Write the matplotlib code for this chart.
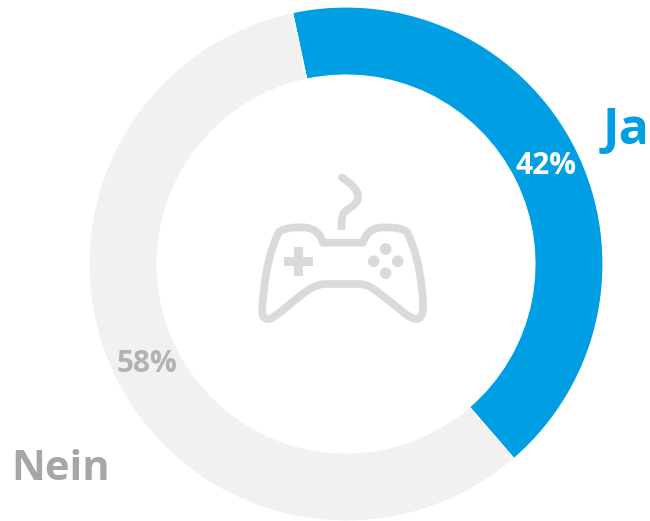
#!/usr/bin/env python3
"""Donut chart: Ja / Nein share with a gamepad icon in the middle."""

import matplotlib
matplotlib.use("Agg")
import matplotlib.pyplot as plt
from matplotlib.patches import Circle, PathPatch, Rectangle
from matplotlib.path import Path

labels = ["Ja", "Nein"]
values = [42, 58]
colors = ["#009FE3", "#F1F1F1"]
label_colors = ["#009FE3", "#A6A6A6"]
pct_colors = ["white", "#B2B2B2"]

W, H = 650, 521
CX, CY, R_OUT, R_IN = 346, 264, 257, 189

plt.rcParams["font.family"] = ["Open Sans", "DejaVu Sans"]

fig = plt.figure(figsize=(W / 100, H / 100), dpi=100)
# axes in pixel coordinates, y pointing down like the reference
ax = fig.add_axes([0, 0, 1, 1])

# y axis is inverted, so wedges run clockwise with counterclock=True
ax.pie(values, colors=colors, startangle=-102, counterclock=True,
       radius=R_OUT, center=(CX, CY), frame=True,
       wedgeprops=dict(width=R_OUT - R_IN, linewidth=0.8, edgecolor="white"))
ax.set_xlim(0, W)
ax.set_ylim(H, 0)
ax.set_aspect("auto")
ax.axis("off")

# slice and value labels
ax.text(603, 131, labels[0], color=label_colors[0], fontsize=36, fontweight="bold",
        va="center", ha="left")
ax.text(11, 470, labels[1], color=label_colors[1], fontsize=30, fontweight="bold",
        va="center", ha="left")
ax.text(546, 166, f"{values[0]}%", color=pct_colors[0], fontsize=21.5, fontweight="bold",
        va="center", ha="center")
ax.text(147, 364, f"{values[1]}%", color=pct_colors[1], fontsize=21.5, fontweight="bold",
        va="center", ha="center")

# gamepad icon
ICON = "#DADADA"
LW = 5.6
body = [(Path.MOVETO, (323, 242.7)),
        (Path.LINETO, (363, 242.7)),
        (Path.CURVE4, (366, 233)), (Path.CURVE4, (372, 228)), (Path.CURVE4, (382, 227.5)),
        (Path.CURVE4, (392, 227)), (Path.CURVE4, (402, 228)), (Path.CURVE4, (407, 232)),
        (Path.CURVE4, (415, 248)), (Path.CURVE4, (420, 268)), (Path.CURVE4, (422, 290)),
        (Path.CURVE4, (424, 308)), (Path.CURVE4, (424, 319)), (Path.CURVE4, (416, 319)),
        (Path.CURVE4, (409, 319)), (Path.CURVE4, (394, 304)), (Path.CURVE4, (383, 296)),
        (Path.CURVE4, (373, 288)), (Path.CURVE4, (367, 284)), (Path.CURVE4, (358, 284)),
        (Path.LINETO, (326, 284)),
        (Path.CURVE4, (317, 284)), (Path.CURVE4, (310, 288)), (Path.CURVE4, (300, 296)),
        (Path.CURVE4, (289, 304)), (Path.CURVE4, (275, 319)), (Path.CURVE4, (268, 319)),
        (Path.CURVE4, (260, 319)), (Path.CURVE4, (262, 308)), (Path.CURVE4, (264, 290)),
        (Path.CURVE4, (266, 268)), (Path.CURVE4, (271, 248)), (Path.CURVE4, (279, 232)),
        (Path.CURVE4, (284, 228)), (Path.CURVE4, (294, 227)), (Path.CURVE4, (304, 227.5)),
        (Path.CURVE4, (314, 228)), (Path.CURVE4, (320, 233)), (Path.CURVE4, (323, 242.7)),
        (Path.CLOSEPOLY, (323, 242.7))]
codes, verts = zip(*body)
ax.add_patch(PathPatch(Path(verts, codes), fc="none", ec=ICON, lw=LW, joinstyle="round"))

# cable: flat at the bottom, rounded at the top, stops short of the body
cord = Path([(342, 177.5), (350, 183), (358, 189), (358, 197),
             (358, 205), (348, 208), (344, 213), (341.5, 217), (341.5, 222), (341.5, 230)],
            [Path.MOVETO] + [Path.CURVE4] * 9)
ax.add_patch(PathPatch(cord, fc="none", ec=ICON, lw=LW, capstyle="butt"))
ax.add_patch(Circle((342, 177.5), 3.9, fc=ICON, ec="none"))

# d-pad
ax.add_patch(Rectangle((284, 256.7), 29.3, 9.3, fc=ICON, ec="none"))
ax.add_patch(Rectangle((294, 246.7), 9.3, 29.3, fc=ICON, ec="none"))

# buttons
for bx, by in [(385.7, 249), (373.7, 261.3), (397.7, 261.3), (385.7, 273.3)]:
    ax.add_patch(Circle((bx, by), 5.8, fc=ICON, ec="none"))

fig.savefig("out.png", dpi=100)
